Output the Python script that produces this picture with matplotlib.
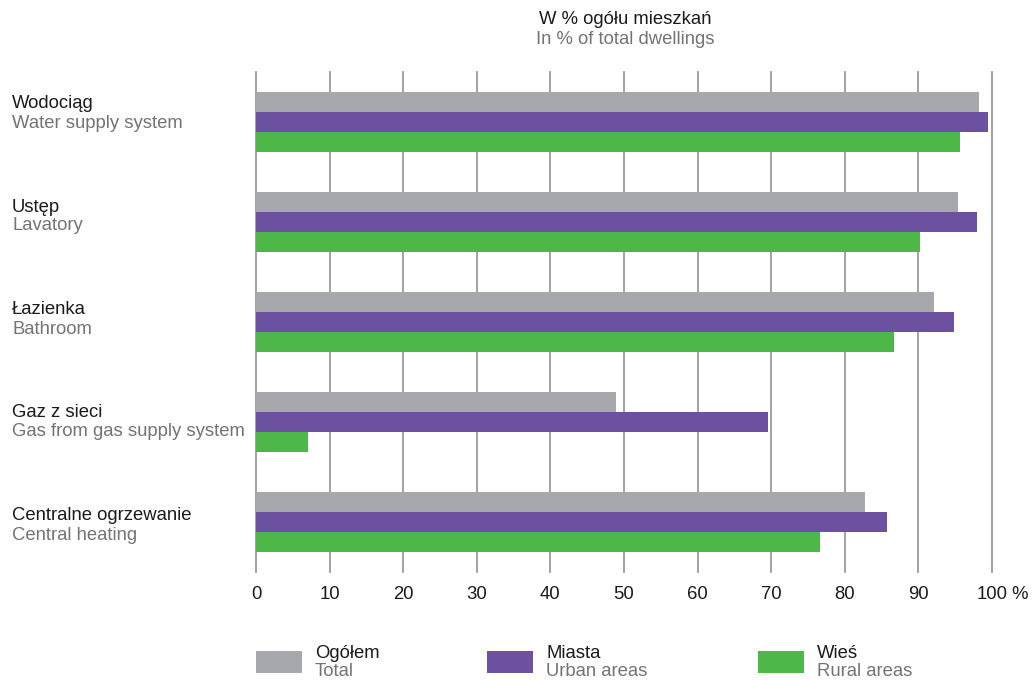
import matplotlib.pyplot as plt
from matplotlib.patches import Rectangle

plt.rcParams['font.family'] = ['Liberation Sans', 'DejaVu Sans']

cats_pl = ['Wodociąg', 'Ustęp', 'Łazienka', 'Gaz z sieci', 'Centralne ogrzewanie']
cats_en = ['Water supply system', 'Lavatory', 'Bathroom',
           'Gas from gas supply system', 'Central heating']
total = [98.3, 95.4, 92.1, 48.9, 82.7]
urban = [99.5, 98.0, 94.8, 69.6, 85.7]
rural = [95.6, 90.2, 86.7, 7.1, 76.6]
ticks = [0, 10, 20, 30, 40, 50, 60, 70, 80, 90, 100]
tick_labels = ['0', '10', '20', '30', '40', '50', '60', '70', '80', '90', '100']

series_pl = ['Ogółem', 'Miasta', 'Wieś']
series_en = ['Total', 'Urban areas', 'Rural areas']
colors = ['#a7a8ab', '#6b51a0', '#4db848']
dark = '#1a1a1a'
grey_txt = '#737373'
fs = 13.3

W, H = 1032, 680
fig = plt.figure(figsize=(W / 100, H / 100), dpi=100)
ax = fig.add_axes([256 / W, 1 - 572 / H, (992 - 256) / W, 500 / H])

bh = 0.2
for i in range(len(cats_pl)):
    for j, vals in enumerate([total, urban, rural]):
        ax.barh(i + (j - 1) * bh, vals[i], height=bh, color=colors[j],
                zorder=3, linewidth=0)

for t in ticks:
    ax.axvline(t, color='#9a9a9a', lw=1.3, zorder=1, clip_on=False)

ax.set_xlim(0, 100)
ax.set_ylim(4.5, -0.5)
ax.set_xticks(ticks)
ax.set_xticklabels(tick_labels, fontsize=fs, color=dark)
ax.tick_params(axis='x', length=0, pad=10)
ax.set_yticks([])
for s in ax.spines.values():
    s.set_visible(False)

# percent sign after the last tick label
ax.annotate(' %', xy=(100, 0), xycoords=('data', 'axes fraction'),
            xytext=(11, -10), textcoords='offset points',
            ha='left', va='top', fontsize=fs, color=dark)

# category labels
for i, (pl, en) in enumerate(zip(cats_pl, cats_en)):
    y = 104 + 103 * i
    fig.text(12 / W, 1 - y / H, pl, fontsize=fs, color=dark, va='center')
    fig.text(12 / W, 1 - (y + 19) / H, en, fontsize=fs, color=grey_txt, va='center')

# title
fig.text(625 / W, 1 - 20 / H, 'W % ogółu mieszkań', fontsize=fs,
         color=dark, ha='center', va='center')
fig.text(625 / W, 1 - 40 / H, 'In % of total dwellings', fontsize=fs,
         color=grey_txt, ha='center', va='center')

# legend
leg_x = [256, 487, 758]
for x, c, pl, en in zip(leg_x, colors, series_pl, series_en):
    fig.patches.append(Rectangle((x / W, 1 - 673 / H), 46 / W, 22 / H,
                                 transform=fig.transFigure, color=c, lw=0))
    fig.text((x + 59) / W, 1 - 653 / H, pl, fontsize=fs, color=dark, va='center')
    fig.text((x + 59) / W, 1 - 671 / H, en, fontsize=fs, color=grey_txt, va='center')

fig.savefig('out.png', dpi=100)
